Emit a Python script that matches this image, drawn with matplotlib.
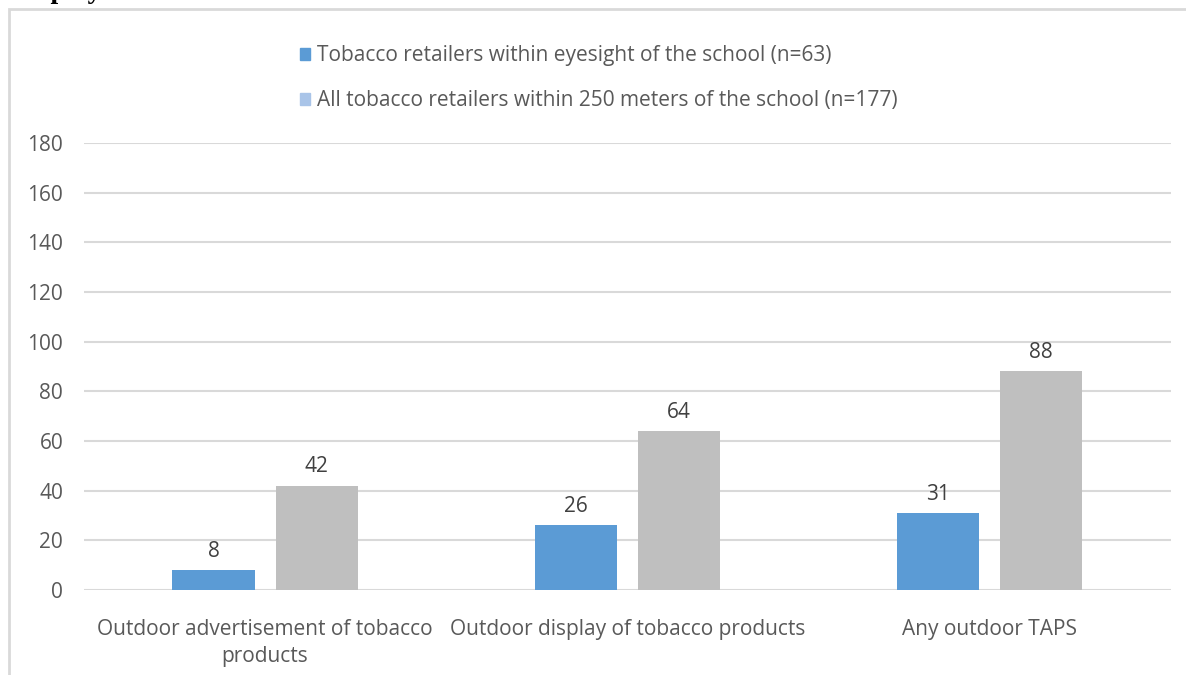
import matplotlib.pyplot as plt
from matplotlib.patches import Patch, Rectangle
import numpy as np

categories = ["Outdoor advertisement of tobacco\nproducts",
              "Outdoor display of tobacco products",
              "Any outdoor TAPS"]
eyesight = [8, 26, 31]
within_250m = [42, 64, 88]
series_names = ["Tobacco retailers within eyesight of the school (n=63)",
                "All tobacco retailers within 250 meters of the school (n=177)"]
yticks = [0, 20, 40, 60, 80, 100, 120, 140, 160, 180]

plt.rcParams['font.family'] = ['Open Sans', 'DejaVu Sans']
txt = '#595959'
fs = 15

fig = plt.figure(figsize=(11.86, 6.75), dpi=100)

# light frame round the chart, cut at right and bottom
fig.patches.append(Rectangle((9 / 1186, -0.2), 1.2, 0.2 + 1 - 9 / 675,
                             transform=fig.transFigure, fill=False,
                             edgecolor='#d9d9d9', lw=2, zorder=0))
# heading of the page above, mostly cropped off
fig.text(12 / 1186, 1 + 2.5 / 675, "Displays Were Noticed", family='Liberation Serif',
         fontweight='bold', fontsize=20, va='baseline', ha='left', color='black')

ax = fig.add_axes([84 / 1186, 1 - 590 / 675, (1170.5 - 84) / 1186, (590 - 143) / 675])
x = np.arange(len(categories))
w = 0.227
b1 = ax.bar(x - 0.1425, eyesight, w, color='#5b9bd5', zorder=3)
b2 = ax.bar(x + 0.1425, within_250m, w, color='#bfbfbf', zorder=3)
ax.bar_label(b1, padding=6, fontsize=fs, color='#404040')
ax.bar_label(b2, padding=6, fontsize=fs, color='#404040')

ax.set_xlim(-0.5, 2.5)
ax.set_ylim(0, 180)
ax.set_yticks(yticks)
ax.yaxis.grid(True, color='#d9d9d9', lw=1.5, zorder=0)
ax.set_xticks(x)
ax.set_xticklabels(categories, fontsize=fs, color=txt, linespacing=1.35)
ax.tick_params(axis='x', length=0, pad=21)
ax.tick_params(axis='y', length=0, pad=15, labelsize=fs, labelcolor=txt)
for s in ax.spines.values():
    s.set_visible(False)

handles = [Patch(color='#5b9bd5'), Patch(color='#a9c4e8')]
fig.legend(handles, series_names, loc='upper left', bbox_to_anchor=(300 / 1186, 1 - 45 / 675),
           frameon=False, fontsize=fs, labelcolor=txt, handlelength=0.5, handleheight=0.5,
           handletextpad=0.3, labelspacing=1.15, borderpad=0, borderaxespad=0)

fig.savefig('out.png', dpi=100)
